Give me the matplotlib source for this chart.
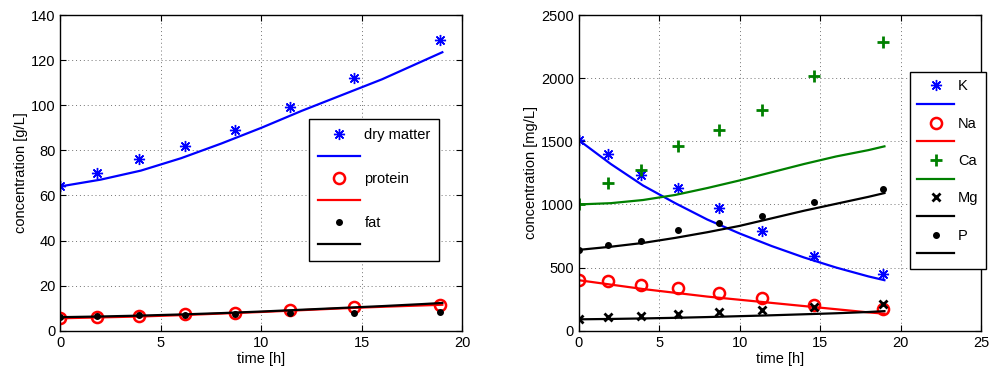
import matplotlib.pyplot as plt

plt.rcParams['font.family'] = ['Liberation Sans', 'DejaVu Sans']
plt.rcParams['font.size'] = 10

# sampling times [h]
t = [0, 1.8, 3.9, 6.2, 8.7, 11.4, 14.6, 18.9]
# model curve times [h]
t_fit = [0, 2, 4, 6, 8, 10, 12, 14, 16, 18, 19]

# left panel: measured and model [g/L]
dry_meas = [64, 70, 76, 82, 89, 99, 112, 129]
dry_fit = [64, 67, 71, 76.5, 83, 90, 97.5, 104.5, 111.5, 119.5, 123.5]
prot_meas = [5.8, 6.0, 6.5, 7.2, 8.0, 9.0, 10.3, 11.5]
prot_fit = [5.5, 5.9, 6.3, 6.9, 7.6, 8.3, 9.1, 9.9, 10.6, 11.2, 11.5]
fat_meas = [6.0, 6.5, 6.8, 7.0, 7.5, 7.8, 8.0, 8.2]
fat_fit = [6.0, 6.3, 6.7, 7.2, 7.8, 8.5, 9.3, 10.1, 10.9, 11.8, 12.3]

# right panel: measured and model [mg/L]
k_meas = [1510, 1400, 1230, 1130, 970, 790, 590, 450]
k_fit = [1510, 1320, 1150, 1010, 880, 770, 670, 580, 500, 430, 400]
na_meas = [400, 390, 360, 340, 300, 255, 205, 170]
na_fit = [400, 365, 330, 300, 270, 245, 220, 195, 170, 145, 135]
ca_meas = [1000, 1170, 1270, 1460, 1590, 1750, 2020, 2290]
ca_fit = [1000, 1010, 1035, 1075, 1130, 1190, 1255, 1320, 1380, 1430, 1460]
mg_meas = [90, 110, 120, 135, 150, 165, 190, 210]
mg_fit = [90, 93, 97, 102, 108, 115, 122, 130, 138, 148, 155]
p_meas = [640, 680, 710, 800, 855, 910, 1020, 1120]
p_fit = [640, 665, 695, 735, 780, 830, 890, 950, 1005, 1060, 1090]

green = (0, 0.5, 0)
ast = (8, 2, 0)


def style_axes(ax, xmax, ymax, yticks, ylabel):
    ax.set_xlim(0, xmax)
    ax.set_ylim(0, ymax)
    ax.set_xticks(range(0, xmax + 1, 5))
    ax.set_yticks(yticks)
    ax.grid(True, linestyle=(0, (1, 3)), color='0.45', linewidth=0.7)
    ax.tick_params(direction='in', top=True, right=True, length=4, labelsize=10.5)
    for s in ax.spines.values():
        s.set_linewidth(1.0)
    ax.set_xlabel('time [h]', fontsize=10.5, labelpad=2)
    ax.set_ylabel(ylabel, fontsize=10.5, labelpad=2)


fig = plt.figure(figsize=(9.9, 3.74), dpi=100)
ax1 = fig.add_axes([0.0611, 0.1158, 0.406, 0.844])
ax2 = fig.add_axes([0.5845, 0.1158, 0.4064, 0.844])

# left
h = []
h.append(ax1.plot(t, dry_meas, ls='none', marker=ast, ms=8, mew=1.0, color='b')[0])
h.append(ax1.plot(t_fit, dry_fit, color='b', lw=1.6)[0])
h.append(ax1.plot(t, prot_meas, ls='none', marker='o', ms=8, mew=1.8, mfc='none', color='r')[0])
h.append(ax1.plot(t_fit, prot_fit, color='r', lw=1.6)[0])
h.append(ax1.plot(t, fat_meas, ls='none', marker='.', ms=8, color='k')[0])
h.append(ax1.plot(t_fit, fat_fit, color='k', lw=1.6)[0])
style_axes(ax1, 20, 140, range(0, 141, 20), 'concentration [g/L]')
leg = ax1.legend(h, ['dry matter', '', 'protein', '', 'fat', ''],
                 loc='upper left', bbox_to_anchor=(309 / 990, 1 - 119 / 374),
                 bbox_transform=fig.transFigure, borderaxespad=0,
                 fancybox=False, edgecolor='k', framealpha=1,
                 handlelength=2.9, handletextpad=0.3, labelspacing=0.55,
                 borderpad=0.6, fontsize=10.5)
leg.get_frame().set_linewidth(1.0)

# right
h = []
h.append(ax2.plot(t, k_meas, ls='none', marker=ast, ms=8, mew=1.0, color='b')[0])
h.append(ax2.plot(t_fit, k_fit, color='b', lw=1.6)[0])
h.append(ax2.plot(t, na_meas, ls='none', marker='o', ms=8, mew=1.8, mfc='none', color='r')[0])
h.append(ax2.plot(t_fit, na_fit, color='r', lw=1.6)[0])
h.append(ax2.plot(t, ca_meas, ls='none', marker='+', ms=8, mew=2, color=green)[0])
h.append(ax2.plot(t_fit, ca_fit, color=green, lw=1.6)[0])
h.append(ax2.plot(t, mg_meas, ls='none', marker='x', ms=6, mew=2, color='k')[0])
h.append(ax2.plot(t_fit, mg_fit, color='k', lw=1.6)[0])
h.append(ax2.plot(t, p_meas, ls='none', marker='.', ms=8, color='k')[0])
h.append(ax2.plot(t_fit, p_fit, color='k', lw=1.6)[0])
style_axes(ax2, 25, 2500, range(0, 2501, 500), 'concentration [mg/L]')
leg = ax2.legend(h, ['K', '', 'Na', '', 'Ca', '', 'Mg', '', 'P', ''],
                 loc='upper left', bbox_to_anchor=(910 / 990, 1 - 72 / 374),
                 bbox_transform=fig.transFigure, borderaxespad=0,
                 fancybox=False, edgecolor='k', framealpha=1,
                 handlelength=2.5, handletextpad=0.3, labelspacing=0.32,
                 borderpad=0.5, fontsize=10.5)
leg.get_frame().set_linewidth(1.0)

fig.savefig('out.png', dpi=100)
